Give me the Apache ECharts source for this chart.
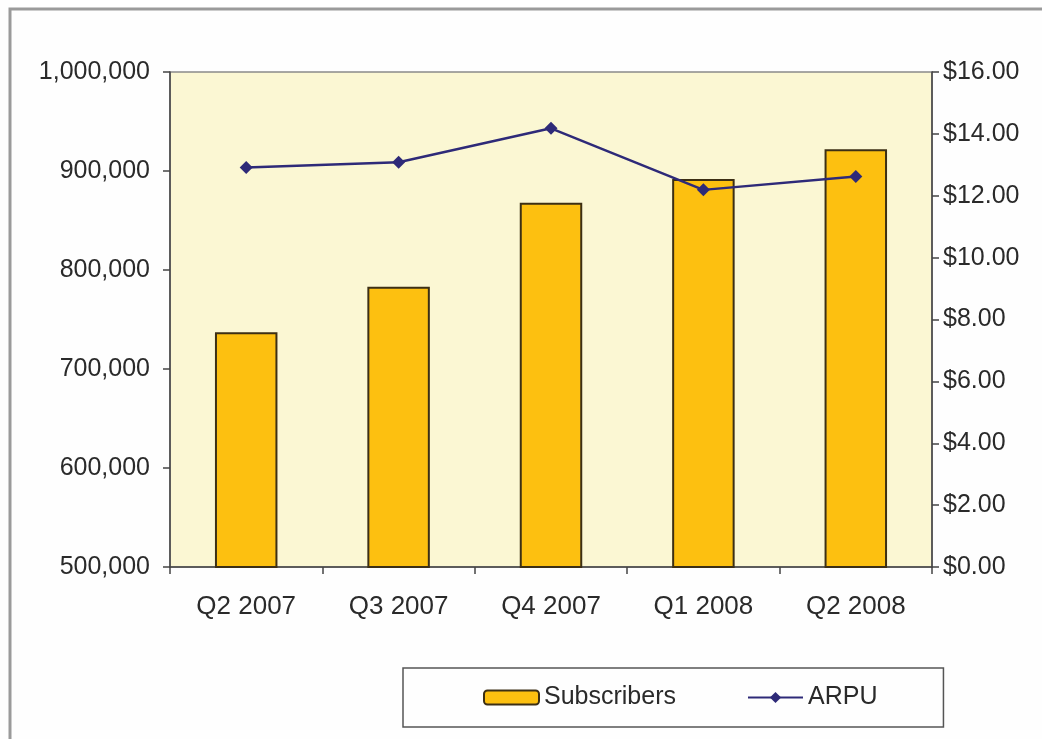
<!DOCTYPE html>
<html>
<head>
<meta charset="utf-8">
<script src="https://cdn.jsdelivr.net/npm/echarts@6/dist/echarts.min.js"></script>
<style>
html,body{margin:0;padding:0;background:#fff;}
#c{width:1042px;height:739px;}
</style>
</head>
<body>
<div id="c"></div>
<script>
var categories = ['Q2 2007', 'Q3 2007', 'Q4 2007', 'Q1 2008', 'Q2 2008'];
var subscribers = [737000, 783000, 868000, 892000, 922000];
var arpu = [12.91, 13.08, 14.18, 12.19, 12.62];
var leftTicks = {min: 500000, max: 1000000, interval: 100000};
var rightTicks = {min: 0, max: 16, interval: 2};

var chart = echarts.init(document.getElementById('c'));
var font = 'Arial, "Liberation Sans", sans-serif';
chart.setOption({
  animation: false,
  backgroundColor: '#fefefe',
  graphic: [{
    type: 'rect',
    shape: {x: 10, y: 9, width: 1200, height: 900},
    style: {fill: 'none', stroke: '#9a9a9a', lineWidth: 3},
    silent: true
  }],
  grid: {
    left: 170, top: 72, right: 110, bottom: 172,
    show: true, backgroundColor: '#FBF7D3', borderColor: '#8a8a8a', borderWidth: 1.5
  },
  legend: {
    left: 403, top: 668,
    padding: [17, 66, 17, 80],
    itemGap: 71,
    itemWidth: 55, itemHeight: 14,
    borderColor: '#555', borderWidth: 1.5,
    textStyle: {fontFamily: font, fontSize: 25, color: '#2a2a2a'},
    data: ['Subscribers', 'ARPU']
  },
  xAxis: {
    type: 'category',
    data: categories,
    boundaryGap: true,
    axisLine: {lineStyle: {color: '#444', width: 1.5}},
    axisTick: {show: true, length: 7, alignWithLabel: false, lineStyle: {color: '#444', width: 1.5}},
    axisLabel: {fontFamily: font, fontSize: 26, color: '#2a2a2a', margin: 27}
  },
  yAxis: [{
    type: 'value',
    min: leftTicks.min, max: leftTicks.max, interval: leftTicks.interval,
    axisLine: {show: true, lineStyle: {color: '#444', width: 1.5}},
    axisTick: {show: true, length: 7, lineStyle: {color: '#444', width: 1.5}},
    splitLine: {show: false},
    axisLabel: {
      fontFamily: font, fontSize: 25, color: '#2a2a2a', margin: 20,
      formatter: function (v) { return v.toLocaleString('en-US'); }
    }
  }, {
    type: 'value',
    position: 'right',
    min: rightTicks.min, max: rightTicks.max, interval: rightTicks.interval,
    axisLine: {show: true, lineStyle: {color: '#444', width: 1.5}},
    axisTick: {show: true, length: 7, lineStyle: {color: '#444', width: 1.5}},
    splitLine: {show: false},
    axisLabel: {
      fontFamily: font, fontSize: 25, color: '#2a2a2a', margin: 11,
      formatter: function (v) { return '$' + v.toFixed(2); }
    }
  }],
  series: [{
    name: 'Subscribers',
    type: 'bar',
    yAxisIndex: 0,
    data: subscribers,
    barWidth: '41%',
    itemStyle: {color: '#FDC010', borderColor: '#3C2F14', borderWidth: 2}
  }, {
    name: 'ARPU',
    type: 'line',
    yAxisIndex: 1,
    data: arpu,
    symbol: 'diamond',
    symbolSize: 13,
    lineStyle: {color: '#2E2A78', width: 2.5},
    itemStyle: {color: '#2E2A78'}
  }]
});
</script>
</body>
</html>
